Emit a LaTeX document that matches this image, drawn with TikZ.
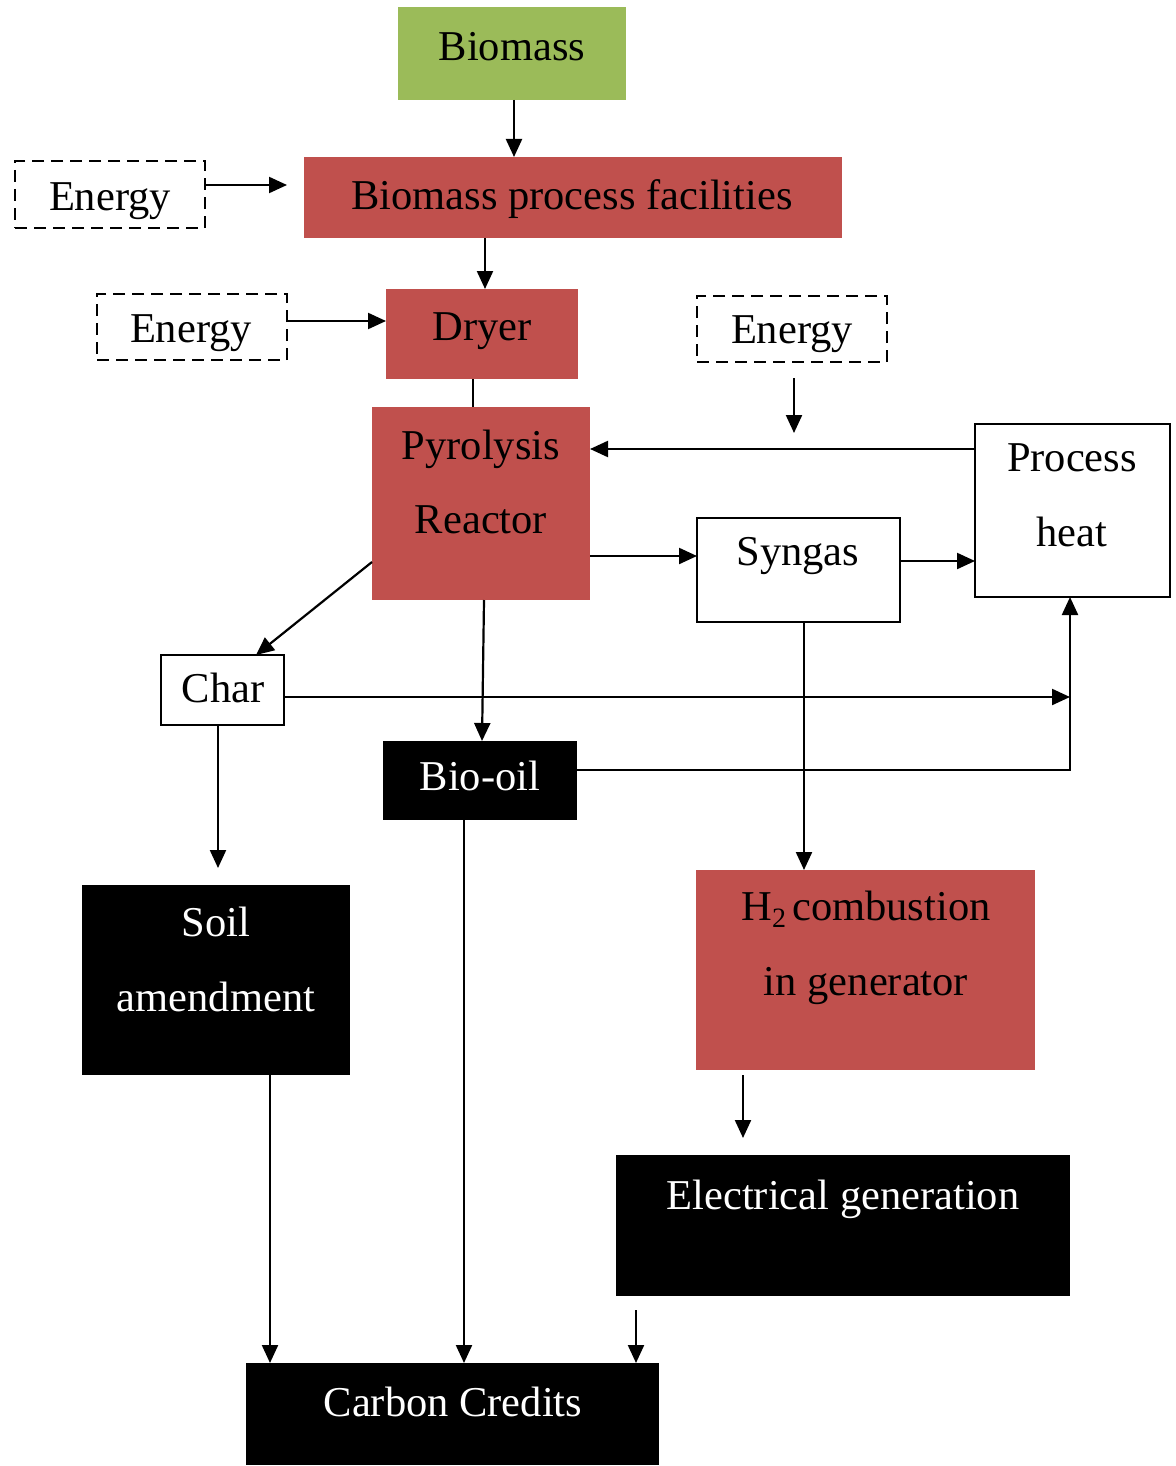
\documentclass[tikz,border=0pt]{standalone}
\usepackage{fontspec}
\setmainfont{Liberation Serif}
\usetikzlibrary{arrows.meta}
\definecolor{bgreen}{HTML}{9BBB59}
\definecolor{bred}{HTML}{C0504D}
\begin{document}
\begin{tikzpicture}[x=1pt,y=-1pt,
  box/.style={rectangle, inner sep=0pt, outer sep=0pt},
  greenbox/.style={box, fill=bgreen},
  redbox/.style={box, fill=bred},
  blackbox/.style={box, fill=black},
  whitebox/.style={box, draw=black, line width=2.2pt, fill=white},
  dashbox/.style={box, draw=black, line width=2.8pt, dash pattern=on 12pt off 7pt},
  txt/.style={anchor=base, inner sep=0pt, font=\fontsize{42.5}{50}\selectfont},
  wtxt/.style={txt, text=white},
  conn/.style={line width=2.2pt},
  arr/.style={conn, -{Triangle[length=18pt,width=16pt]}}
]
\useasboundingbox (0,0) rectangle (1175,1466);
\fill[white] (0,0) rectangle (1175,1466);

% boxes
\node[greenbox, minimum width=228pt, minimum height=93pt] (bio) at (512,53.5) {};
\node[redbox, minimum width=538pt, minimum height=81pt] (fac) at (573,197.5) {};
\node[dashbox, minimum width=190pt, minimum height=67pt] (en1) at (110,194.5) {};
\node[dashbox, minimum width=190pt, minimum height=66pt] (en2) at (192,327) {};
\node[redbox, minimum width=192pt, minimum height=90pt] (dry) at (482,334) {};
\node[dashbox, minimum width=190pt, minimum height=66pt] (en3) at (792,329) {};
\node[redbox, minimum width=218pt, minimum height=193pt] (pyr) at (481,503.5) {};
\node[whitebox, minimum width=195pt, minimum height=173pt] (ph) at (1072.5,510.5) {};
\node[whitebox, minimum width=203pt, minimum height=104pt] (syn) at (798.5,570) {};
\node[whitebox, minimum width=123pt, minimum height=70pt] (char) at (222.5,690) {};
\node[blackbox, minimum width=194pt, minimum height=79pt] (oil) at (480,780.5) {};
\node[redbox, minimum width=339pt, minimum height=200pt] (h2) at (865.5,970) {};
\node[blackbox, minimum width=268pt, minimum height=190pt] (soil) at (216,980) {};
\node[blackbox, minimum width=454pt, minimum height=141pt] (elec) at (843,1225.5) {};
\node[blackbox, minimum width=413pt, minimum height=102pt] (cc) at (452.5,1414) {};

% texts
\node[txt] (tbio) at (512,61) {Biomass};
\node[txt] (tfac) at (572,209) {Biomass process facilities};
\node[txt] (ten1) at (110,211) {Energy};
\node[txt] (ten2) at (191,342) {Energy};
\node[txt] (tdry) at (482,340) {Dryer};
\node[txt] (ten3) at (792,343) {Energy};
\node[txt] (tpyr1) at (481,459) {Pyrolysis};
\node[txt] (tpyr2) at (481,533) {Reactor};
\node[txt] (tph1) at (1072,471) {Process};
\node[txt] (tph2) at (1072,546) {heat};
\node[txt] (tsyn) at (798,565) {Syngas};
\node[txt] (tchar) at (223,702) {Char};
\node[wtxt] (toil) at (480,790) {Bio-oil};
\node[wtxt] (tsoil1) at (216,936) {Soil};
\node[wtxt] (tsoil2) at (216,1011) {amendment};
\node[txt] (th21) at (866,920) {H{\fontsize{28}{30}\selectfont\raisebox{-7pt}{2}}\hspace{6pt}combustion};
\node[txt] (th22) at (866,995) {in generator};
\node[wtxt] (telec) at (843,1209) {Electrical generation};
\node[wtxt] (tcc) at (453,1416) {Carbon Credits};

% connectors
\coordinate (j) at (1070,697);
\draw[arr] (bio.south -| 514,0) -- (fac.north -| 514,0);
\draw[arr, shorten >=17pt] (en1.east |- 0,185) -- (fac.west |- 0,185);
\draw[arr] (fac.south -| 485,0) -- (dry.north -| 485,0);
\draw[arr] (en2.east |- 0,321) -- (dry.west |- 0,321);
\draw[conn] (dry.south -| 473,0) -- (pyr.north -| 473,0);
\draw[arr, shorten <=16pt] (en3.south -| 794,0) -- ++(0,71);
\draw[arr] (ph.west |- 0,449) -- (pyr.east |- 0,449);
\draw[arr] (pyr.east |- 0,556) -- (syn.west |- 0,556);
\draw[arr] (syn.east |- 0,561) -- (ph.west |- 0,561);
\draw[arr] (pyr.west |- 0,562) -- (char.north -| 256,0);
\draw[arr] (char.east |- 0,697) -- (j);
\draw[arr] (pyr.south -| 484,0) -- (oil.north -| 482,0);
\draw[arr] (oil.east |- 0,770) -| (ph.south -| 1070,0);
\draw[arr] (syn.south -| 804,0) -- (h2.north -| 804,0);
\draw[arr, shorten >=17pt] (char.south -| 218,0) -- (soil.north -| 218,0);
\draw[arr, shorten <=5pt, shorten >=17pt] (h2.south -| 743,0) -- (elec.north -| 743,0);
\draw[arr, shorten <=14pt] (elec.south -| 636,0) -- (cc.north -| 636,0);
\draw[arr] (soil.south -| 270,0) -- (cc.north -| 270,0);
\draw[arr] (oil.south -| 464,0) -- (cc.north -| 464,0);
\end{tikzpicture}
\end{document}
